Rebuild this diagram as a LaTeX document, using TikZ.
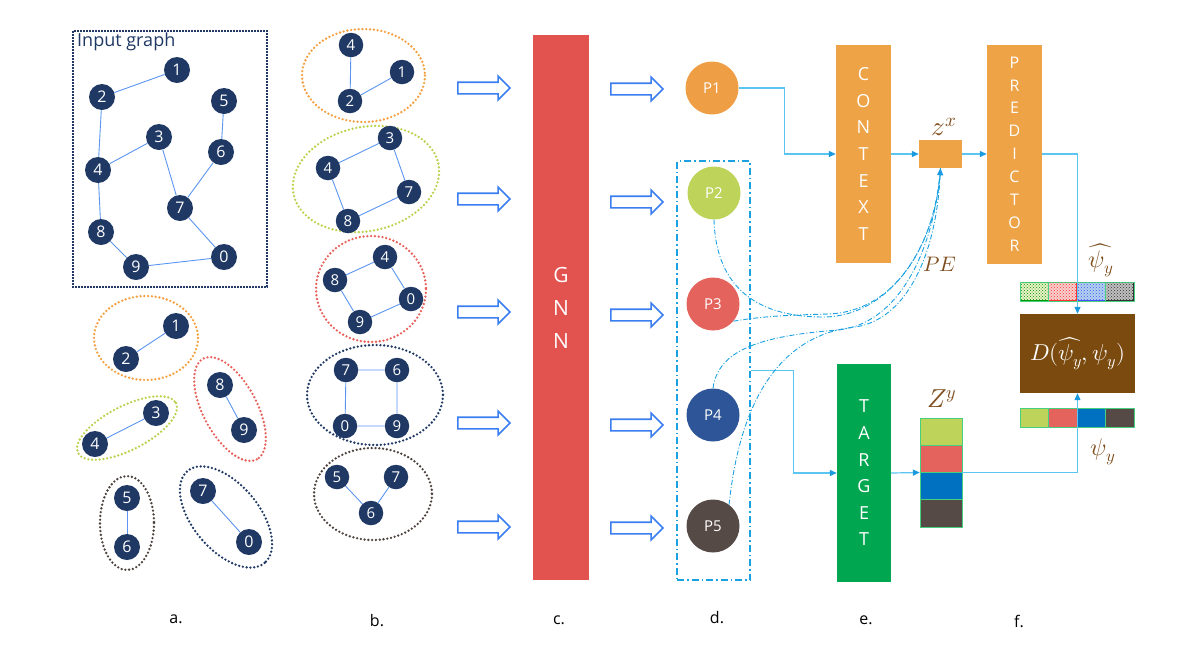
\documentclass[tikz,border=0pt]{standalone}
\usepackage{fontspec}
\usepackage{unicode-math}
\setmainfont{Open Sans}
\setmathfont{latinmodern-math.otf}
\usetikzlibrary{shapes.geometric,shapes.arrows,arrows.meta,patterns}
\definecolor{navy}{HTML}{1F3864}
\definecolor{edgeblue}{HTML}{5B95F0}
\definecolor{harrowblue}{HTML}{3A7EF0}
\definecolor{gnnred}{HTML}{E2534F}
\definecolor{corange}{HTML}{EEA346}
\definecolor{porange}{HTML}{EE9E44}
\definecolor{cgreen}{HTML}{BDD35A}
\definecolor{cred}{HTML}{E5635D}
\definecolor{cblue}{HTML}{0070C0}
\definecolor{pblue}{HTML}{2E5597}
\definecolor{cdark}{HTML}{564A46}
\definecolor{ccyan}{HTML}{1BA1E2}
\definecolor{lineblue}{HTML}{5BC5F2}
\definecolor{tipblue}{HTML}{1A9BE0}
\definecolor{tgreen}{HTML}{00A650}
\definecolor{dbrown}{HTML}{7B4A0E}
\definecolor{mathbrown}{HTML}{7F4E1F}
\definecolor{cellgreen}{HTML}{45CF7E}
\definecolor{eorange}{HTML}{F4A040}
\definecolor{egreen}{HTML}{BBD24E}
\definecolor{ered}{HTML}{E8605A}
\definecolor{egray}{HTML}{4D423E}
\begin{document}
\begin{tikzpicture}[x=1pt,y=-1pt,
 gn/.style={circle,fill=navy,text=white,minimum size=26pt,inner sep=0pt,font=\fontsize{16}{16}\selectfont},
 gnb/.style={gn,minimum size=24.5pt,font=\fontsize{15}{15}\selectfont},
 ge/.style={draw=edgeblue,line width=0.9pt},
 grpdots/.style={line width=2.6pt,line cap=round,dash pattern=on 0pt off 3.8pt},
 harrow/.style={single arrow,draw=harrowblue,line width=1.6pt,fill=white,minimum height=52pt,single arrow head extend=6pt,inner xsep=0pt,inner ysep=5pt},
 pnode/.style={circle,minimum size=53pt,inner sep=0pt,text=white,font=\fontsize{15}{15}\selectfont},
 colbar/.style={inner sep=0pt,text=white,align=center},
 conn/.style={draw=lineblue,line width=1.2pt,-{Triangle[length=7pt,width=6pt,color=tipblue]}},
 pe/.style={draw=ccyan,line width=0.9pt,dash pattern=on 5pt off 2pt on 1pt off 2pt},
 lab/.style={font=\fontsize{16}{16}\selectfont},
 mlab/.style={text=mathbrown,font=\fontsize{24}{24}\selectfont}
]
\useasboundingbox (0,0) rectangle (1192,649);

% ---------- a. input graph ----------
\draw[navy,line width=2.6pt,dash pattern=on 1.6pt off 1.4pt] (73,31) rectangle (267,287);
\node[anchor=north west,text=navy,inner sep=0pt,font=\fontsize{18}{18}\selectfont] (ig) at (77,33) {Input graph};
\node[gn] (i1) at (177,70) {1};
\node[gn] (i2) at (102,97) {2};
\node[gn] (i5) at (224,101) {5};
\node[gn] (i3) at (159,137) {3};
\node[gn] (i6) at (221,152) {6};
\node[gn] (i4) at (98,170) {4};
\node[gn] (i7) at (180,208) {7};
\node[gn] (i8) at (101,232) {8};
\node[gn] (i9) at (136,267) {9};
\node[gn] (i0) at (224,257) {0};
\draw[ge] (i1)--(i2) (i2)--(i4) (i4)--(i3) (i3)--(i7) (i5)--(i6) (i6)--(i7) (i7)--(i0) (i4)--(i8) (i8)--(i9) (i9)--(i0);

% small groups
\draw[grpdots,draw=eorange] (146,338) ellipse [x radius=52,y radius=42];
\node[gn] (s1) at (176,326) {1};
\node[gn] (s2) at (126,359) {2};
\draw[ge] (s1)--(s2);
\draw[grpdots,draw=ered] (230,409) ellipse [x radius=57,y radius=27,rotate=-62];
\node[gn] (s8) at (220,385) {8};
\node[gn] (s9) at (244,430) {9};
\draw[ge] (s8)--(s9);
\draw[grpdots,draw=egreen] (127,428) ellipse [x radius=55,y radius=22,rotate=27];
\node[gn] (s3) at (156,413) {3};
\node[gn] (s4) at (95,444) {4};
\draw[ge] (s3)--(s4);
\draw[grpdots,draw=egray] (127,523) ellipse [x radius=27,y radius=47];
\node[gn] (s5) at (127,498) {5};
\node[gn] (s6) at (127,547) {6};
\draw[ge] (s5)--(s6);
\draw[grpdots,draw=navy] (226,517) ellipse [x radius=60,y radius=33,rotate=-50];
\node[gn] (s7) at (203,491) {7};
\node[gn] (s0) at (249,542) {0};
\draw[ge] (s7)--(s0);

% ---------- b. subgraphs ----------
\draw[grpdots,draw=eorange] (363.5,75.5) ellipse [x radius=61.5,y radius=46.5];
\node[gnb] (ba4) at (351,45) {4};
\node[gnb] (ba1) at (402,72) {1};
\node[gnb] (ba2) at (350,101) {2};
\draw[ge] (ba4)--(ba2) (ba2)--(ba1);

\draw[grpdots,draw=egreen] (366,179) ellipse [x radius=74,y radius=52,rotate=12];
\node[gnb] (bb3) at (390,138) {3};
\node[gnb] (bb4) at (328,168) {4};
\node[gnb] (bb7) at (409,192) {7};
\node[gnb] (bb8) at (348,221) {8};
\draw[ge] (bb3)--(bb4) (bb3)--(bb7) (bb4)--(bb8) (bb8)--(bb7);

\draw[grpdots,draw=ered] (371,289) ellipse [x radius=55,y radius=53];
\node[gnb] (bc4) at (385,257) {4};
\node[gnb] (bc8) at (335,280) {8};
\node[gnb] (bc0) at (411,299) {0};
\node[gnb] (bc9) at (360,322) {9};
\draw[ge] (bc4)--(bc8) (bc4)--(bc0) (bc8)--(bc9) (bc9)--(bc0);

\draw[grpdots,draw=navy] (375,395) ellipse [x radius=68,y radius=50];
\node[gnb] (bd7) at (346,370) {7};
\node[gnb] (bd6) at (397,370) {6};
\node[gnb] (bd0) at (345,426) {0};
\node[gnb] (bd9) at (397,426) {9};
\draw[ge] (bd7)--(bd6) (bd7)--(bd0) (bd6)--(bd9) (bd0)--(bd9);

\draw[grpdots,draw=egray] (373,494) ellipse [x radius=59,y radius=46];
\node[gnb] (be5) at (337,477) {5};
\node[gnb] (be7) at (396,477) {7};
\node[gnb] (be6) at (371,513) {6};
\draw[ge] (be5)--(be6) (be7)--(be6);

% ---------- hollow arrows ----------
\node[harrow] (ha1) at (481,88) {};
\node[harrow] (ha2) at (481,199) {};
\node[harrow] (ha3) at (481,312) {};
\node[harrow] (ha4) at (481,423) {};
\node[harrow] (ha5) at (481,527) {};
\node[harrow] (hb1) at (634,89) {};
\node[harrow] (hb2) at (634,202) {};
\node[harrow] (hb3) at (634,315) {};
\node[harrow] (hb4) at (634,425) {};
\node[harrow] (hb5) at (634,528) {};

% ---------- c. GNN ----------
\node[colbar,fill=gnnred,minimum width=56pt,minimum height=545pt,font=\fontsize{21}{33}\selectfont] (gnn) at (561,307.5) {G\\N\\N};

% ---------- d. patches ----------
\node[draw=ccyan,line width=1.4pt,dash pattern=on 7pt off 3pt on 1.5pt off 3pt,minimum width=73pt,minimum height=419pt,inner sep=0pt] (dbox) at (713.5,370.5) {};
\node[pnode,fill=porange] (p1) at (712,88) {P1};
\node[pnode,fill=cgreen] (p2) at (714,193) {P2};
\node[pnode,fill=cred] (p3) at (713,304) {P3};
\node[pnode,fill=pblue] (p4) at (713,415) {P4};
\node[pnode,fill=cdark] (p5) at (713,526) {P5};

% ---------- e. context / target ----------
\node[colbar,fill=corange,minimum width=55pt,minimum height=218pt,font=\fontsize{18}{26.7}\selectfont] (context) at (863.5,154) {C\\O\\N\\T\\E\\X\\T};
\node[fill=corange,minimum width=43pt,minimum height=28pt,inner sep=0pt] (zx) at (940.5,154) {};
\node[mlab,font=\fontsize{27}{27}\selectfont] (zxl) at (944,127) {$z^{x}$};
\node[colbar,fill=corange,minimum width=55pt,minimum height=219pt,font=\fontsize{16}{22.9}\selectfont] (pred) at (1014.5,154) {P\\R\\E\\D\\I\\C\\T\\O\\R};
\node[colbar,fill=tgreen,minimum width=54pt,minimum height=218pt,font=\fontsize{18}{26.6}\selectfont] (target) at (864,473) {T\\A\\R\\G\\E\\T};

% Zy stack
\node[minimum width=42pt,minimum height=109pt,inner sep=0pt] (zy) at (941,472.5) {};
\foreach \c [count=\i from 0] in {cgreen,cred,cblue,cdark}
  \draw[cellgreen,line width=0.8pt,fill=\c] (920,{418+27.25*\i}) rectangle (962,{445.25+27.25*\i});
\node[mlab,font=\fontsize{26}{26}\selectfont] (zyl) at (942,399) {$Z^{y}$};
\node[mlab,font=\fontsize{21}{21}\selectfont] (pel) at (940,264) {$PE$};

% ---------- f. loss ----------
\node[fill=dbrown,minimum width=115pt,minimum height=79pt,inner sep=0pt,text=white,font=\fontsize{23}{23}\selectfont] (dnode) at (1077.5,353.5) {$D(\widehat{\psi_y},\psi_y)$};
\foreach \c [count=\i from 0] in {cgreen,cred,cblue,cdark}
  \draw[cellgreen,line width=0.8pt,fill=\c] ({1020+28.5*\i},408) rectangle ({1048.5+28.5*\i},427);
\foreach \c/\d [count=\i from 0] in {cgreen!35/green!60!black,cred!30/red!80,cblue!30/blue!70,black!25/black!80}
  \draw[cellgreen,line width=0.8pt,fill=\d] ({1020+28.5*\i},282) rectangle ({1048.5+28.5*\i},301);
\foreach \c/\d [count=\i from 0] in {cgreen!35/green!60!black,cred!30/red!80,cblue!30/blue!70,black!25/black!80}
  \fill[\c] ({1020.8+28.5*\i},282.8) rectangle ({1047.7+28.5*\i},300.2);
\foreach \c/\d [count=\i from 0] in {cgreen!35/green!60!black,cred!30/red!80,cblue!30/blue!70,black!25/black!80}
  \fill[pattern=crosshatch dots,pattern color=\d] ({1020.8+28.5*\i},282.8) rectangle ({1047.7+28.5*\i},300.2);
\node[mlab] (psihat) at (1101,260) {$\widehat{\psi_y}$};
\node[mlab] (psi) at (1103,452) {$\psi_y$};

% ---------- connectors ----------
\draw[conn] (p1.east) -- ++(46,0) |- (context.west);
\draw[conn] (context.east) -- (zx.west);
\draw[conn] (zx.east) -- (pred.west);
\draw[conn] (pred.east) -| (dnode.north);
\draw[conn] (dbox.east) -- ++(43,0) |- (target.west);
\draw[conn] (target.east) -- (zy.west);
\draw[conn] (zy.east) -| (dnode.south);

% PE curves
\draw[pe] (p2.south) .. controls (716,290) and (760,317) .. (823,317) .. controls (890,317) and (937,245) .. (zx.south);
\draw[pe] (p3.-40) .. controls (770,315) and (800,315) .. (828,314) .. controls (893,312) and (935,248) .. (zx.south);
\draw[pe] (p4.north) .. controls (718,350) and (760,336) .. (838,330) .. controls (898,324) and (934,252) .. (zx.south);
\draw[pe,-{Triangle[length=7pt,width=6pt,color=tipblue]}] (p5.53) .. controls (740,400) and (780,335) .. (855,327) .. controls (905,320) and (936,258) .. (zx.south);

% ---------- column labels ----------
\node[lab] (la) at (176,619) {a.};
\node[lab] (lb) at (377,621) {b.};
\node[lab] (lc) at (559,620) {c.};
\node[lab] (ld) at (717,618) {d.};
\node[lab] (le) at (866,620) {e.};
\node[lab] (lf) at (1019,621) {f.};
\end{tikzpicture}
\end{document}
